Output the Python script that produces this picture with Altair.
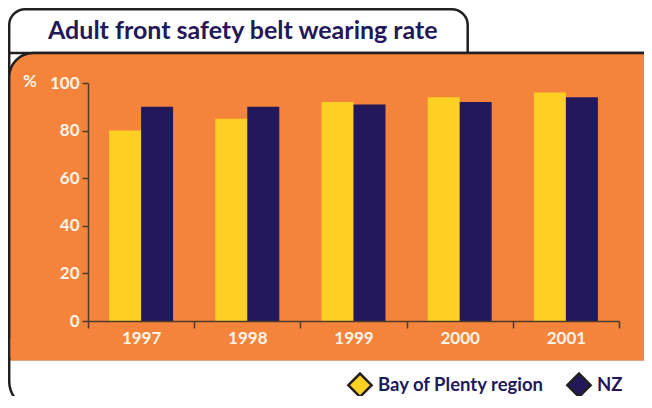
import altair as alt
import pandas as pd

# ---- data ----
years = ["1997", "1998", "1999", "2000", "2001"]
bay_of_plenty = [80, 85, 92, 94, 96]
nz = [90, 90, 91, 92, 94]
series_names = ["Bay of Plenty region", "NZ"]
y_ticks = [0, 20, 40, 60, 80, 100]
chart_title = "Adult front safety belt wearing rate"
y_unit = "%"

# ---- styling ----
ORANGE = "#F4843B"
YELLOW = "#FDD022"
NAVY = "#23185A"
INK = "#231F20"
AXIS = "#4E3B2C"
LABEL = "#FFF4E8"
FONT = "Lato"

rows = []
for i, yr in enumerate(years):
    rows.append({"year": yr, "series": series_names[0], "rate": bay_of_plenty[i]})
    rows.append({"year": yr, "series": series_names[1], "rate": nz[i]})
df = pd.DataFrame(rows)

W, H = 531, 238
one = alt.Data(values=[{}])


def box(x, x2, y, y2, **kw):
    return alt.Chart(one).mark_rect(**kw).encode(
        x=alt.value(x), x2=alt.value(x2), y=alt.value(y), y2=alt.value(y2)
    )


title_box = box(-78.8, 379.7, -73.7, 20, fill="white", stroke=INK,
                strokeWidth=2.5, cornerRadius=16)
lower_card = box(-78.8, 620, -30, 326, fill="white", stroke=INK, strokeWidth=2.5,
                 cornerRadiusBottomLeft=28, cornerRadiusBottomRight=28)
orange_panel = box(-78.8, 620, -30, 276, fill=ORANGE, stroke=INK, strokeWidth=2.5,
                   cornerRadiusTopLeft=24, cornerRadiusTopRight=26)
orange_cover = box(-77.4, 640, 255, 277.4, fill=ORANGE, strokeWidth=0)

bars = alt.Chart(df).mark_bar().encode(
    x=alt.X(
        "year:N",
        scale=alt.Scale(paddingInner=0, paddingOuter=0),
        axis=alt.Axis(
            title=None, labelAngle=0, tickBand="extent", tickSize=7, tickWidth=1.5,
            tickColor=AXIS, domainColor=AXIS, domainWidth=1.5, labelColor=LABEL,
            labelFont=FONT, labelFontSize=17, labelFontWeight="bold",
            labelPadding=2, zindex=1,
        ),
    ),
    xOffset=alt.XOffset(
        "series:N",
        scale=alt.Scale(domain=series_names, paddingInner=0, paddingOuter=0.66),
    ),
    y=alt.Y(
        "rate:Q",
        scale=alt.Scale(domain=[0, 100], nice=False),
        axis=alt.Axis(
            title=None, values=y_ticks, grid=False, tickSize=6, tickWidth=1.5,
            tickColor=AXIS, domainColor=AXIS, domainWidth=1.5, labelColor=LABEL,
            labelFont=FONT, labelFontSize=17, labelFontWeight="bold",
            labelPadding=3, zindex=1,
        ),
    ),
    color=alt.Color(
        "series:N",
        scale=alt.Scale(domain=series_names, range=[YELLOW, NAVY]),
        legend=alt.Legend(
            title=None, orient="none", legendX=259, legendY=289,
            direction="horizontal", symbolType="diamond", symbolSize=540,
            symbolStrokeColor=INK, symbolStrokeWidth=2.5, symbolOpacity=1,
            labelFont=FONT, labelFontSize=18.5, labelFontWeight="bold",
            labelColor=NAVY, labelOffset=5, columnPadding=17, labelLimit=400,
        ),
    ),
)

title_text = alt.Chart(one).mark_text(
    text=chart_title, align="left", baseline="alphabetic", font=FONT,
    fontSize=25, fontWeight="bold", color=NAVY,
).encode(x=alt.value(-40), y=alt.value(-44))

unit_text = alt.Chart(one).mark_text(
    text=y_unit, align="center", baseline="middle", font=FONT,
    fontSize=17, fontWeight="bold", color=LABEL,
).encode(x=alt.value(-58), y=alt.value(-1))

chart = alt.layer(
    title_box, lower_card, orange_panel, orange_cover, bars, title_text, unit_text
).properties(
    width=W, height=H,
    padding={"left": 80, "top": 75, "right": 25, "bottom": 75},
    autosize=alt.AutoSizeParams(type="none"),
    background="white",
).configure_view(stroke=None)

chart.save("out.html", embed_options={"renderer": "svg", "actions": False})
